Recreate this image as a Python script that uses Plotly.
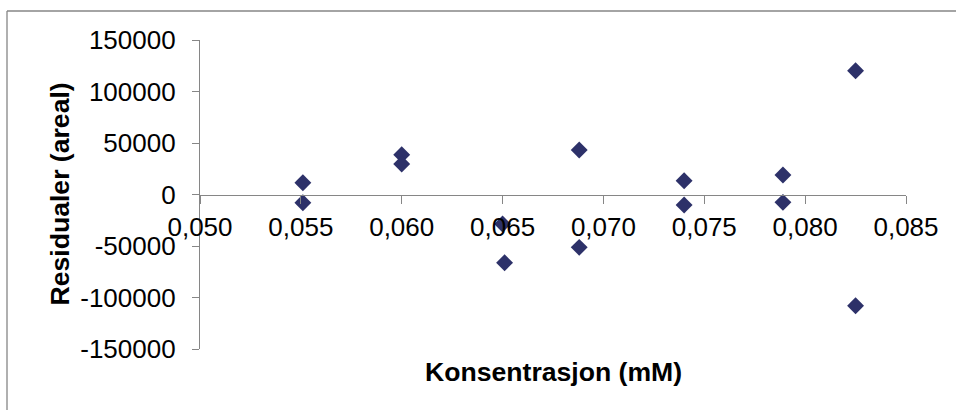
import plotly.graph_objects as go

# Data
konsentrasjon = [0.0551, 0.0551, 0.0600, 0.0600, 0.0650, 0.0651, 0.0688, 0.0688,
                 0.0740, 0.0740, 0.0789, 0.0789, 0.0825, 0.0825]
residualer = [11400, -8000, 38600, 29600, -28600, -66200, 43200, -51300,
              13400, -10200, 18900, -7600, 120200, -108000]

x_tickvals = [0.050, 0.055, 0.060, 0.065, 0.070, 0.075, 0.080, 0.085]
x_ticktext = ["0,050", "0,055", "0,060", "0,065", "0,070", "0,075", "0,080", "0,085"]
y_tickvals = [150000, 100000, 50000, 0, -50000, -100000, -150000]
y_ticktext = ["150000", "100000", "50000", "0", "-50000", "-100000", "-150000"]

x_title = "Konsentrasjon (mM)"
y_title = "Residualer (areal)"

W, H = 956, 410
L, R, T, B = 200, 50, 40, 61
pw, ph = W - L - R, H - T - B

def px_x(p):
    return (p - L) / pw

def px_y(p):
    return (H - B - p) / ph

axis_col = "#868686"
font_fam = "Liberation Sans, Arial, sans-serif"

fig = go.Figure()
fig.add_trace(go.Scatter(
    x=konsentrasjon, y=residualer, mode="markers",
    marker=dict(symbol="diamond", size=13, color="#2D3169",
                line=dict(width=0)),
    showlegend=False, cliponaxis=False,
))

fig.update_layout(
    width=W, height=H,
    margin=dict(l=L, r=R, t=T, b=B, pad=0),
    paper_bgcolor="white", plot_bgcolor="white",
    font=dict(family=font_fam, size=26, color="black"),
    xaxis=dict(
        range=[0.050, 0.085], tickvals=x_tickvals, ticktext=x_ticktext,
        anchor="free", position=0.5,
        showline=True, linecolor=axis_col, linewidth=1.3,
        ticks="outside", ticklen=8, tickcolor=axis_col, tickwidth=1.3,
        showgrid=False, zeroline=False,
        tickfont=dict(size=26, family=font_fam, color="black"),
        ticklabelstandoff=1,
    ),
    yaxis=dict(
        range=[-150000, 150000], tickvals=y_tickvals, ticktext=y_ticktext,
        showline=True, linecolor=axis_col, linewidth=1.3,
        ticks="outside", ticklen=7, tickcolor=axis_col, tickwidth=1.3,
        showgrid=False, zeroline=False,
        tickfont=dict(size=26, family=font_fam, color="black"),
        ticklabelstandoff=11,
    ),
    shapes=[
        dict(type="line", xref="paper", yref="paper",
             x0=px_x(7), x1=px_x(W + 5), y0=px_y(11), y1=px_y(11),
             line=dict(color=axis_col, width=1.3)),
        dict(type="line", xref="paper", yref="paper",
             x0=px_x(7), x1=px_x(7), y0=px_y(11), y1=px_y(H + 5),
             line=dict(color=axis_col, width=1.3)),
    ],
    annotations=[
        dict(text=f"<b>{x_title}</b>", xref="paper", yref="paper",
             x=0.5, y=px_y(372), xanchor="center", yanchor="middle",
             showarrow=False, font=dict(size=26.6, family=font_fam, color="black")),
        dict(text=f"<b>{y_title}</b>", xref="paper", yref="paper",
             x=px_x(59), y=0.5, xanchor="center", yanchor="middle",
             textangle=-90, showarrow=False,
             font=dict(size=26.6, family=font_fam, color="black")),
    ],
)

fig.write_html("out.html", config={"displayModeBar": False},
               post_script="document.body.style.margin='0';")
